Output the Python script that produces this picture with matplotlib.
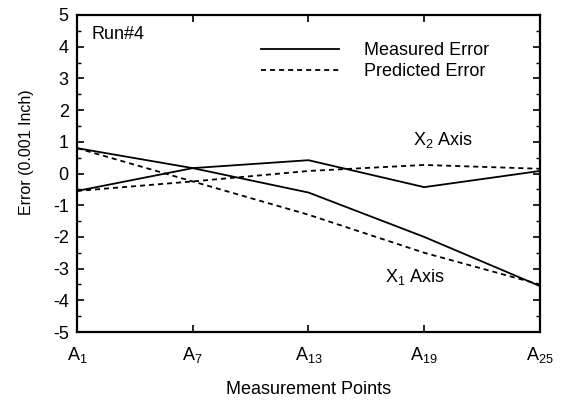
import numpy as np
import matplotlib.pyplot as plt
from matplotlib.ticker import MultipleLocator

plt.rcParams['font.family'] = ['Liberation Sans', 'DejaVu Sans']
plt.rcParams['mathtext.fontset'] = 'custom'
plt.rcParams['mathtext.rm'] = 'Liberation Sans'
plt.rcParams['mathtext.it'] = 'Liberation Sans'
plt.rcParams['axes.unicode_minus'] = False

points = [1, 7, 13, 19, 25]
point_labels = [r'A$_\mathrm{1}$', r'A$_\mathrm{7}$', r'A$_\mathrm{13}$',
                r'A$_\mathrm{19}$', r'A$_\mathrm{25}$']

x1_measured = [0.8, 0.17, -0.6, -2.0, -3.55]
x1_predicted = [0.8, -0.25, -1.3, -2.5, -3.5]
x2_measured = [-0.55, 0.17, 0.42, -0.43, 0.08]
x2_predicted = [-0.55, -0.25, 0.08, 0.27, 0.15]

dash = (0, (2.8, 2.2))

fig = plt.figure(figsize=(5.68, 4.01), dpi=100)
ax = fig.add_axes([0.1356, 0.172, 0.815, 0.7906])

ax.plot(points, x1_measured, color='black', lw=1.3, label='Measured Error')
ax.plot(points, x1_predicted, color='black', lw=1.3, ls=dash, label='Predicted Error')
ax.plot(points, x2_measured, color='black', lw=1.3)
ax.plot(points, x2_predicted, color='black', lw=1.3, ls=dash)

ax.set_xlim(1, 25)
ax.set_ylim(-5, 5)
ax.set_xticks(points)
ax.set_xticklabels(point_labels)
ax.yaxis.set_major_locator(MultipleLocator(1))
ax.yaxis.set_minor_locator(MultipleLocator(0.5))
ax.tick_params(direction='in', top=True, right=True, labelsize=13, length=5, width=1.2, pad=6)
ax.tick_params(axis='x', pad=9)
ax.tick_params(which='minor', direction='in', right=True, length=3, width=1)
for s in ax.spines.values():
    s.set_linewidth(1.6)

ax.set_xlabel('Measurement Points', fontsize=13, labelpad=12)
ax.set_ylabel('Error (0.001 Inch)', fontsize=11.5)
ax.yaxis.set_label_coords(-0.092, 0.568)

ax.text(0.032, 0.937, 'Run#4', transform=ax.transAxes, fontsize=13, va='center')
ax.text(20.0, 1.06, r'X$_\mathrm{2}$ Axis', fontsize=13, ha='center', va='center')
ax.text(18.5, -3.27, r'X$_\mathrm{1}$ Axis', fontsize=13, ha='center', va='center')

ax.legend(loc='upper left', bbox_to_anchor=(0.363, 0.965), frameon=False, fontsize=13,
          handlelength=4.3, labelspacing=0.2, handletextpad=1.4)

plt.savefig('out.png', dpi=100)
